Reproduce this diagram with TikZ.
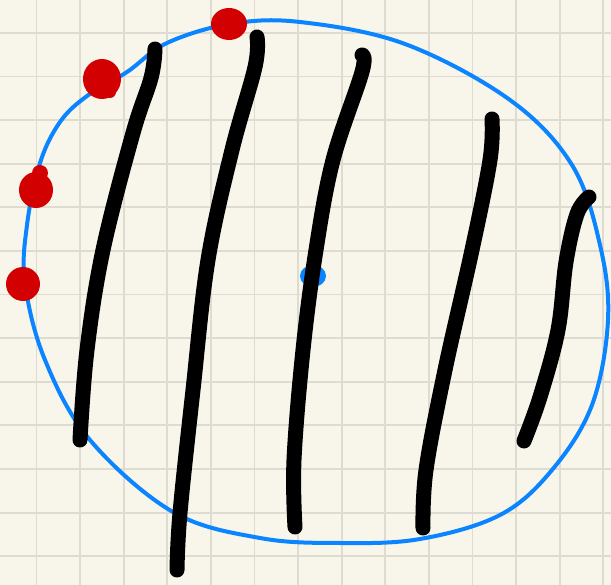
\documentclass[tikz,border=0pt]{standalone}
\begin{document}
\begin{tikzpicture}[x=1pt,y=-1pt,
  bluepen/.style={draw=penblue,line width=4,line cap=round,line join=round},
  blackpen/.style={draw=black,line width=15,line cap=round,line join=round},
  redblob/.style={fill=penred},
  gridpen/.style={draw=gridgray,line width=1.8}]
\definecolor{paper}{HTML}{F8F6EA}
\definecolor{gridgray}{HTML}{DEDCD0}
\definecolor{penblue}{HTML}{0A84FF}
\definecolor{penred}{HTML}{D20000}
\fill[paper] (0,0) rectangle (611,585);
\useasboundingbox (0,0) rectangle (611,585);
% grid
\foreach \k in {0,...,13} {
  \draw[gridpen] ({36.4+43.6*\k},0) -- ({36.4+43.6*\k},585);
}
\foreach \k in {0,...,12} {
  \draw[gridpen] (0,{33+43.6*\k}) -- (611,{33+43.6*\k});
}
% blue outline
\draw[bluepen] plot[smooth cycle, tension=0.6] coordinates {
(230,24) (300,22) (405,44) (510,100) (572,165) (600,245) (608,320)
(592,405) (552,470) (500,515) (420,539) (340,543) (260,538) (173,512)
(90,440) (45,360) (25,283) (27,225) (40,163) (60,122) (87,96) (127,72) (167,43)};
% blue dot
\fill[penblue] (313,276) ellipse [x radius=13, y radius=11];
% black strokes
\draw[blackpen] plot[smooth, tension=0.6] coordinates {
(155,49) (151,78) (133,133) (103,250) (87,350) (80,440)};
\draw[blackpen] plot[smooth, tension=0.6] coordinates {
(257,37) (255,67) (232,150) (208,260) (193,390) (180,513) (177,570)};
\draw[blackpen] plot[smooth, tension=0.6] coordinates {
(362,55) (362,72) (333,160) (316,250) (303,350) (294,460) (295,527)};
\draw[blackpen] plot[smooth, tension=0.6] coordinates {
(492,119) (490,160) (472,250) (445,370) (426,470) (423,528)};
\draw[blackpen] plot[smooth, tension=0.6] coordinates {
(589,197) (577,214) (566,262) (558,330) (540,397) (524,441)};
% red blobs
\fill[redblob] (229,24) ellipse [x radius=18, y radius=16];
\fill[redblob] (102,79) ellipse [x radius=19, y radius=20];
\fill[redblob] (110,92) circle [radius=6];
\fill[redblob] (36,190) ellipse [x radius=17, y radius=18];
\fill[redblob] (40,173) circle [radius=8];
\fill[redblob] (23,284) ellipse [x radius=17, y radius=17];
\end{tikzpicture}
\end{document}
